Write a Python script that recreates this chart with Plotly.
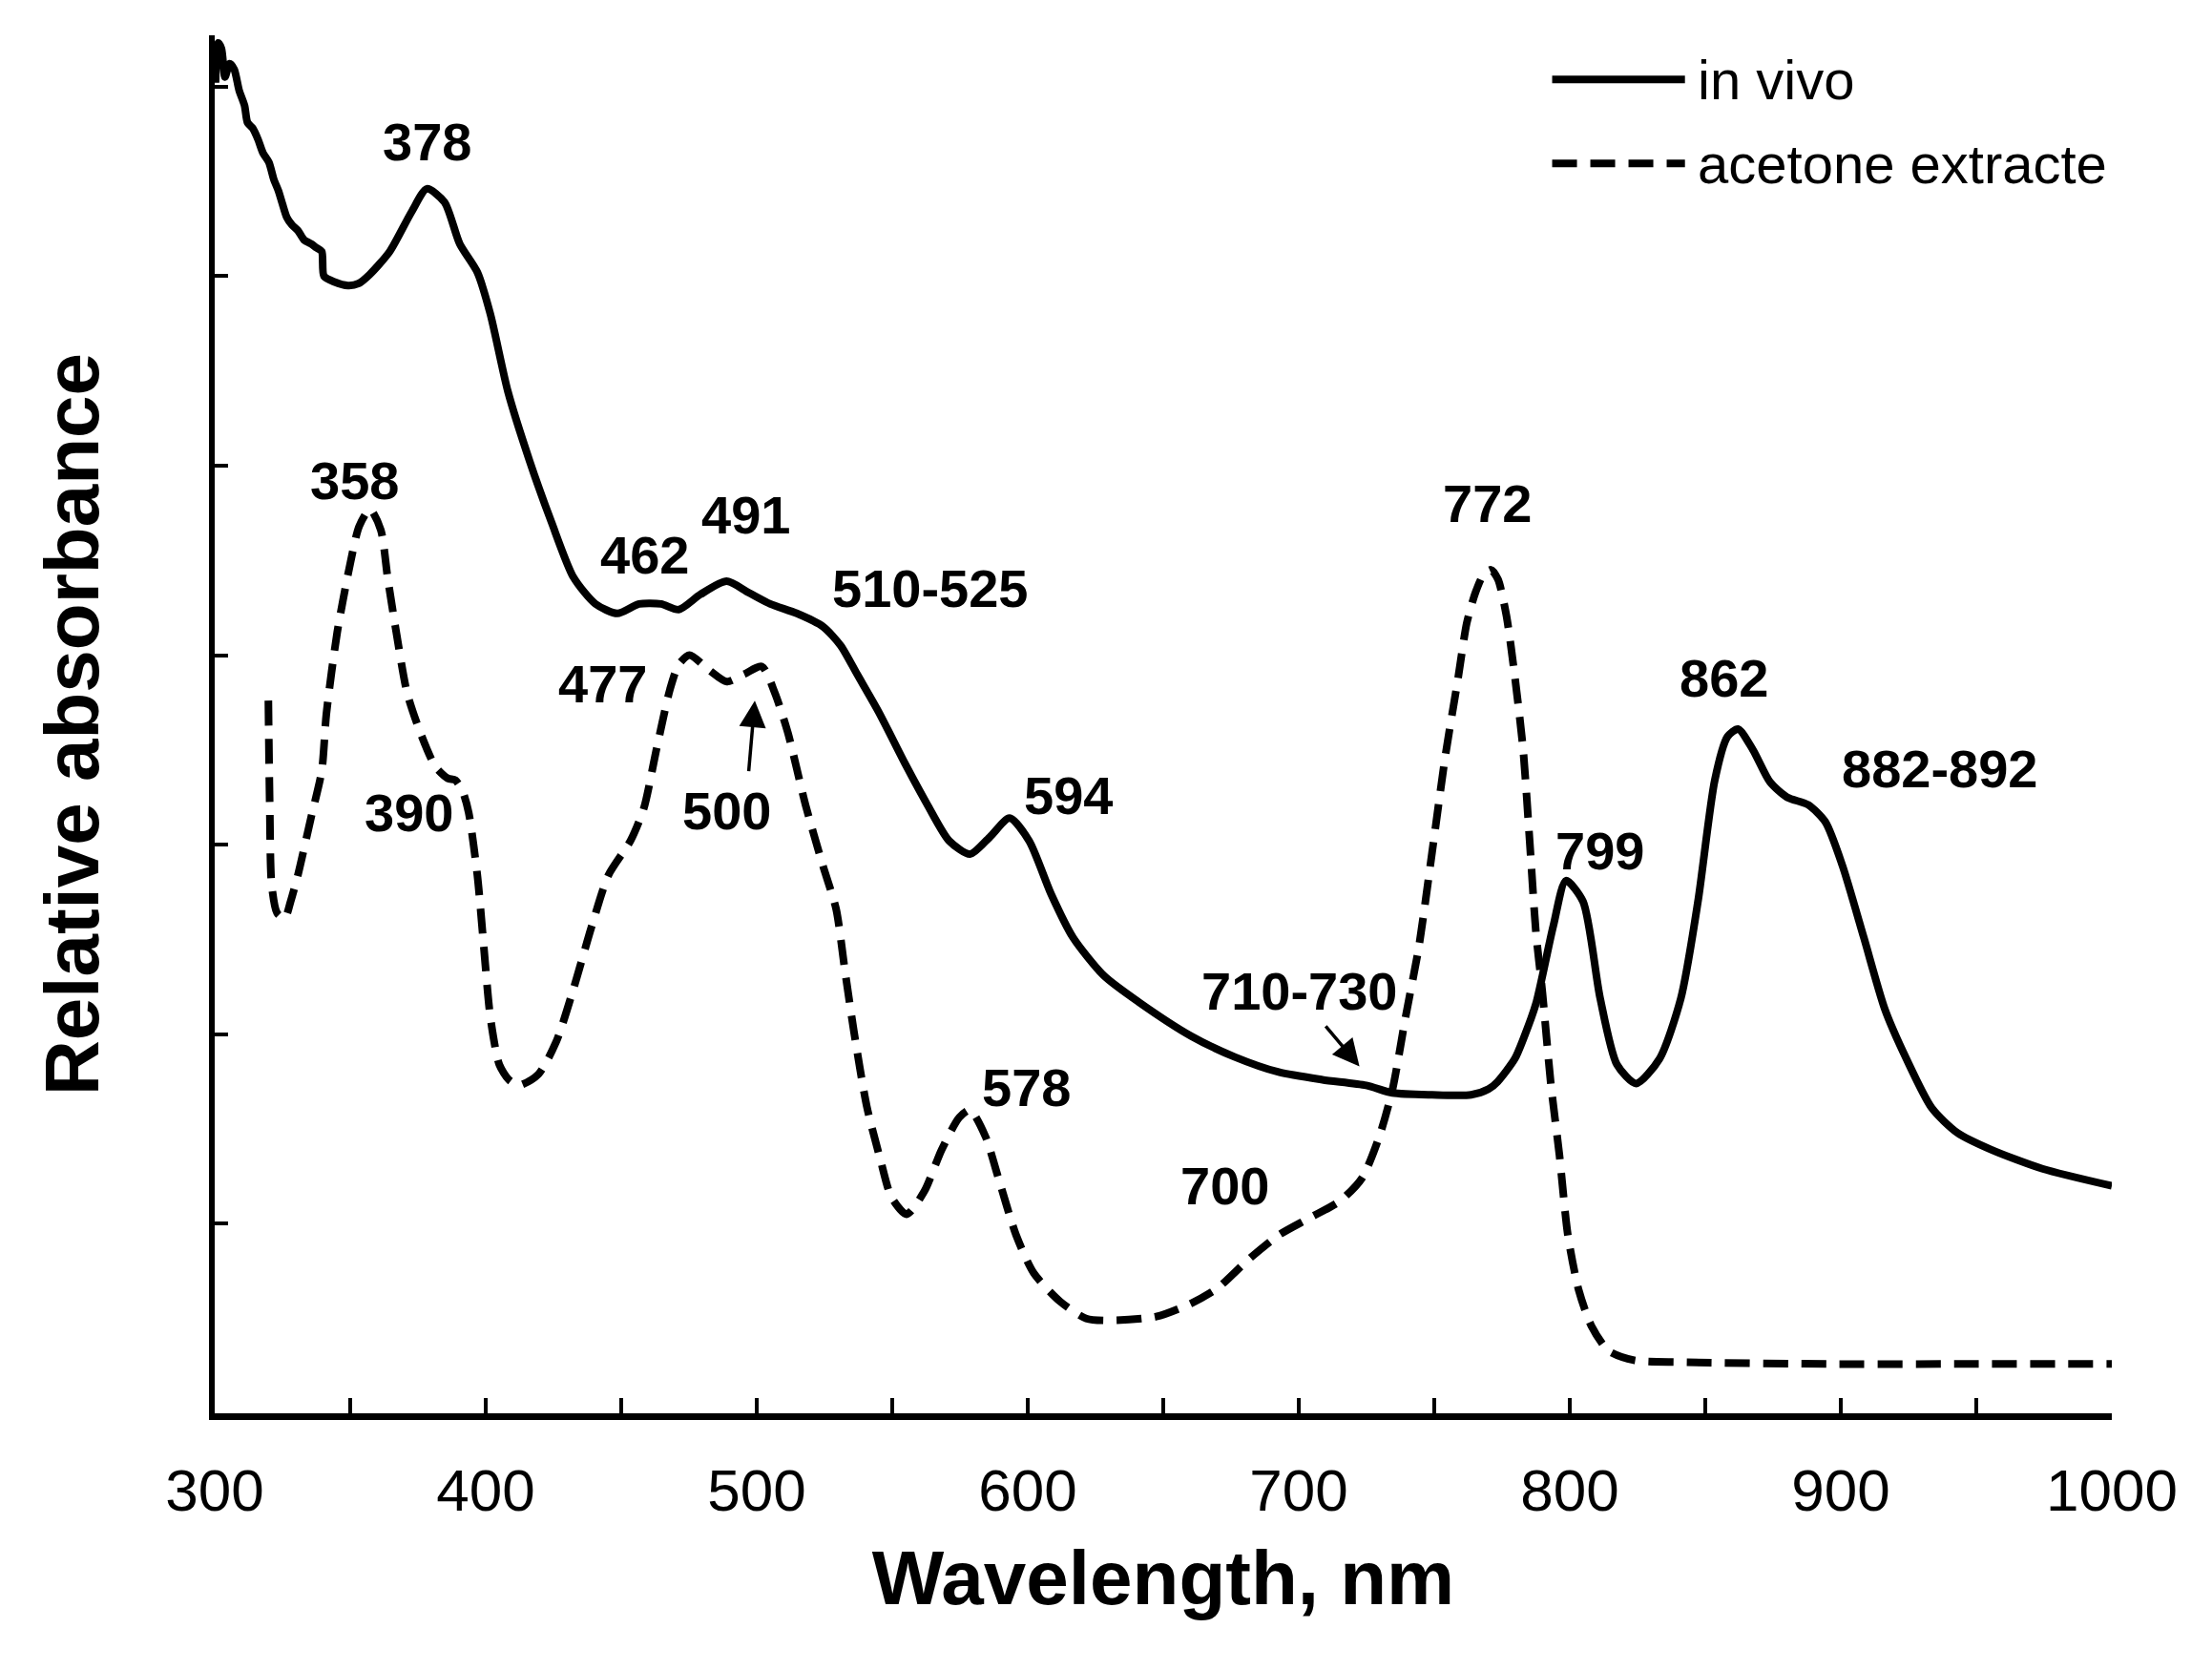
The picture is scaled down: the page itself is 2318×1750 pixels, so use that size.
import plotly.graph_objects as go

# ---------------- data ----------------
in_vivo_nm = [300.3, 301.3, 302.5, 303.8, 305.5, 307.2, 309, 311, 312.1, 314, 316, 317.8, 320, 321.8,
              323.5, 325, 326.6, 328.5, 330.7, 333, 335.5, 337.5, 339.5, 340.3, 344, 349.2, 353,
              357.3, 364.6, 372.7, 378.3, 384.8, 390.4, 396.9, 401.7, 408.2, 416.3, 424.3, 432.4,
              440.5, 448.6, 456.6, 464.7, 471.2, 479.2, 488.9, 497, 505, 514.8, 524.5, 531, 537,
              545, 555, 563, 571, 578.7, 586, 593.3, 600.5, 608.6, 616.7, 628, 640.9, 660.3, 676.4,
              692.6, 708.7, 724.9, 734.6, 749.2, 763.6, 770, 773.4, 779.7, 783, 787.5, 793.9, 798.6,
              804.9, 811.2, 817.4, 824.5, 833.1, 841, 847.3, 853.5, 858.2, 862.1, 867.6, 873.9,
              880.2, 888, 894.3, 900.6, 908.5, 916.3, 924.2, 933.6, 943, 955.6, 974.4, 1000]
in_vivo_abs = [7.02, 7.23, 7.20, 7.05, 7.12, 7.09, 6.98, 6.90, 6.81, 6.78, 6.72, 6.65, 6.60, 6.51,
               6.45, 6.38, 6.31, 6.27, 6.24, 6.19, 6.17, 6.15, 6.13, 6.00, 5.97, 5.95, 5.96,
               6.01, 6.13, 6.34, 6.46, 6.39, 6.17, 6.02, 5.80, 5.39, 5.02, 4.70, 4.41,
               4.27, 4.22, 4.27, 4.27, 4.24, 4.32, 4.39, 4.33, 4.27, 4.22, 4.15, 4.05, 3.90,
               3.70, 3.42, 3.21, 3.02, 2.95, 3.04, 3.14, 3.02, 2.74, 2.51, 2.31, 2.17, 1.99, 1.88,
               1.80, 1.76, 1.73, 1.69, 1.68, 1.68, 1.71, 1.75, 1.87, 1.98, 2.16, 2.57, 2.81,
               2.70, 2.19, 1.84, 1.74, 1.87, 2.19, 2.70, 3.34, 3.57, 3.61, 3.50, 3.33,
               3.25, 3.21, 3.12, 2.89, 2.51, 2.13, 1.87, 1.61, 1.48, 1.39, 1.29, 1.20]

acetone_nm = [319.8, 320.3, 321.0, 323.0, 325.8, 328, 330.7, 335.5, 339.5, 341.2, 345.2, 350.1,
              353.3, 357.3, 361.3, 363.8, 367, 371, 375.9, 381.5, 386, 388.8, 391.5, 393.7,
              396.9, 399.3, 401.7, 405, 408.5, 412.2, 419.5, 426, 432.4, 438.9, 445.3, 453.4,
              458.3, 463.1, 468, 471.2, 475.2, 482.5, 488.9, 495.4, 501.9, 506.7, 511.5, 518,
              524.4, 529.3, 532.5, 535.8, 540.6, 545.6, 549.7, 555.3, 561.8, 568.2, 574.7, 578.7,
              584.4, 589.2, 595.7, 602.2, 611.9, 621.6, 631.2, 647.4, 660.3, 670, 681.3, 692.6,
              703.9, 715.2, 723.3, 729.7, 734.6, 739.4, 744.3, 749.2, 754, 758.8, 762, 765.2,
              768, 770.9, 773.5, 776.6, 779.7, 782.8, 785.2, 787.5, 789.9, 793, 796.2, 799.3,
              803.3, 808, 814.3, 823.7, 841, 895.9, 943, 1000]
acetone_abs = [3.76, 3.21, 2.79, 2.64, 2.61, 2.70, 2.84, 3.14, 3.39, 3.69, 4.12, 4.49,
               4.68, 4.77, 4.66, 4.41, 4.12, 3.80, 3.59, 3.41, 3.35, 3.34, 3.28, 3.17,
               2.84, 2.46, 2.09, 1.84, 1.76, 1.73, 1.79, 1.96, 2.24, 2.56, 2.84, 3.02,
               3.19, 3.51, 3.82, 3.95, 4.00, 3.92, 3.86, 3.90, 3.94, 3.80, 3.59, 3.21,
               2.89, 2.66, 2.34, 2.02, 1.62, 1.34, 1.14, 1.05, 1.17, 1.39, 1.56, 1.60,
               1.46, 1.24, 0.94, 0.74, 0.59, 0.50, 0.49, 0.51, 0.58, 0.66, 0.81, 0.94,
               1.03, 1.12, 1.24, 1.46, 1.71, 2.09, 2.46, 2.96, 3.46, 3.88, 4.17, 4.33,
               4.42, 4.45, 4.40, 4.21, 3.89, 3.50, 3.02, 2.54, 2.22, 1.74, 1.36, 0.94,
               0.65, 0.46, 0.33, 0.28, 0.27, 0.26, 0.26, 0.26]

series_names = ["in vivo", "acetone extracte"]

# peak labels: text, wavelength position, height position
peak_labels = ["378", "358", "462", "491", "477", "390", "500", "510-525", "594",
               "578", "710-730", "700", "772", "799", "862", "882-892"]
peak_label_nm = [378.2, 351.6, 458.6, 495.8, 443.3, 371.5, 488.9, 564.2, 615.0,
                 599.3, 700.3, 672.8, 769.6, 811.0, 856.7, 936.7]
peak_label_y = [6.71, 4.92, 4.53, 4.74, 3.85, 3.17, 3.18, 4.35, 3.26,
                1.72, 2.23, 1.20, 4.80, 2.97, 3.88, 3.40]

# arrows: (tail nm, tail y) -> (head nm, head y)
arrow_tail_nm = [497.0, 709.5]
arrow_tail_y = [3.38, 2.05]
arrow_head_nm = [499.3, 722.4]
arrow_head_y = [3.76, 1.83]

x_tick_vals = [300, 400, 500, 600, 700, 800, 900, 1000]
x_tick_text = ["300", "400", "500", "600", "700", "800", "900", "1000"]
y_tick_vals = [0, 1, 2, 3, 4, 5, 6, 7]

FONT = "Liberation Sans, Arial, sans-serif"
LW = 8

fig = go.Figure()
fig.add_trace(go.Scatter(x=in_vivo_nm, y=in_vivo_abs, mode="lines", name=series_names[0],
                         line=dict(color="black", width=LW, shape="spline", smoothing=0.7),
                         showlegend=False))
fig.add_trace(go.Scatter(x=acetone_nm, y=acetone_abs, mode="lines", name=series_names[1],
                         line=dict(color="black", width=LW, dash="26px,14px", shape="spline", smoothing=0.7),
                         showlegend=False))

annotations = []
for t, xv, yv in zip(peak_labels, peak_label_nm, peak_label_y):
    annotations.append(dict(x=xv, y=yv, xref="x", yref="y", text="<b>" + t + "</b>", showarrow=False,
                            font=dict(family=FONT, size=56, color="black"),
                            xanchor="center", yanchor="middle"))
for tx, ty, hx, hy in zip(arrow_tail_nm, arrow_tail_y, arrow_head_nm, arrow_head_y):
    annotations.append(dict(x=hx, y=hy, xref="x", yref="y", ax=tx, ay=ty, axref="x", ayref="y",
                            text="", showarrow=True, arrowhead=2, arrowsize=1.6, arrowwidth=3.5,
                            arrowcolor="black"))

# legend (manual, long line samples as in the reference)
leg_y = [0.968, 0.907]
leg_dash = ["solid", "26px,14px"]
shapes = []
for name, yy, d in zip(series_names, leg_y, leg_dash):
    shapes.append(dict(type="line", xref="paper", yref="paper", x0=0.705, x1=0.775, y0=yy, y1=yy,
                       line=dict(color="black", width=LW, dash=d)))
    annotations.append(dict(x=0.7805, y=yy, xref="paper", yref="paper", text=name, showarrow=False,
                            xanchor="left", yanchor="middle",
                            font=dict(family=FONT, size=58, color="black")))

fig.update_layout(
    width=2318, height=1750,
    margin=dict(l=217, r=113, t=29, b=277),
    paper_bgcolor="white", plot_bgcolor="white",
    font=dict(family=FONT, color="black"),
    annotations=annotations, shapes=shapes,
    showlegend=False,
)
fig.update_xaxes(range=[300, 1000], tickvals=x_tick_vals, ticktext=x_tick_text,
                 ticks="inside", ticklen=16, tickwidth=4, tickcolor="black",
                 minor=dict(dtick=50, ticks="inside", ticklen=16, tickwidth=4, tickcolor="black"),
                 showline=True, linewidth=7, linecolor="black", showgrid=False, zeroline=False,
                 tickfont=dict(family=FONT, size=62, color="black"), ticklabelstandoff=21,
                 title=dict(text="<b>Wavelength, nm</b>", font=dict(family=FONT, size=80, color="black"),
                            standoff=32))
fig.update_yaxes(range=[0, 7.27], tickvals=y_tick_vals, showticklabels=False,
                 ticks="inside", ticklen=14, tickwidth=4, tickcolor="black",
                 showline=True, linewidth=6, linecolor="black", showgrid=False, zeroline=False,
                 title=dict(text="<b>Relative absorbance</b>", font=dict(family=FONT, size=80, color="black"),
                            standoff=91))

fig.write_html("out.html")
